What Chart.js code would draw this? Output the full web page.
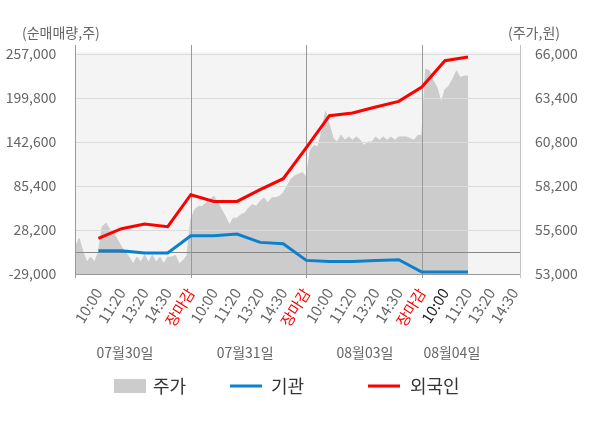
<!DOCTYPE html>
<html>
<head>
<meta charset="utf-8">
<script src="https://cdn.jsdelivr.net/npm/chart.js@4.4.1/dist/chart.umd.min.js"></script>
<style>
  body { margin: 0; background: #fff; }
  #wrap { width: 600px; height: 428px; }
</style>
</head>
<body>
<div id="wrap"><canvas id="grafico" width="600" height="428"></canvas></div>
<script>
// datos
const timeLabels = ["10:00", "11:20", "13:20", "14:30", "장마감"];
const dateLabels = ["07월30일", "07월31일", "08월03일", "08월04일"];
const leftTicks = [-29000, 28200, 85400, 142600, 199800, 257000];
const rightTicks = [53000, 55600, 58200, 60800, 63400, 66000];

// 주가 (6 muestras por tramo de eje)
const priceValues = [
    54600, 55100, 54300, 53700, 54000, 53700, 54300, 55800, 56000, 55600,
    55400, 55000, 54600, 54300, 54000, 53600, 54000, 53700, 54100, 53700,
    54100, 53700, 54000, 53600, 54000, 54000, 54100, 53600, 53800, 54100,
    56200, 56800, 57000, 57000, 57200, 57400, 57600, 57200, 56800, 56400,
    55900, 56300, 56300, 56500, 56600, 56900, 57100, 57000, 57300, 57500,
    57200, 57500, 57500, 57600, 57800, 58200, 58600, 58800, 58900, 59000,
    58700,
    60300, 60600, 60500, 61400, 62600, 61800, 61000, 60800, 61200, 60900,
    61100, 60900, 61100, 60900, 60600, 60800, 60800, 61100, 60900, 61100,
    60900, 61100, 60900, 61100, 61100, 61100, 61000, 60900, 61200, 61200,
    65100, 65000, 64400, 64000, 63100, 63900, 64100, 64500, 65000, 64600,
    64700, 64700
];
// 기관 / 외국인 (uno por marca de hora, desde 07/30 10:00)
const institution = [1300, 1300, -1700, -1700, 20800, 20800, 23000, 12100, 10400, -11300,
    -12600, -12600, -11300, -10400, -26400, -26400, -26400];
const foreign = [17300, 29900, 36000, 32500, 74100, 65400, 65400, 80600, 94900, 135200,
    176800, 180300, 188100, 195400, 214100, 248300, 253100];

const samplesPerTick = 6;
const fuente = "'Noto Sans CJK KR', 'Noto Sans', sans-serif";
const xTicks = [];
for (let i = 1; i <= 19; i++) xTicks.push(i);
const datePos = [2.15, 7.35, 12.54, 16.3];

const decor = {
    id: "decor",
    beforeDraw(chart) {
        const { ctx, chartArea: a } = chart;
        ctx.save();
        ctx.fillStyle = "#f4f4f4";
        ctx.fillRect(a.left, a.top - 2, a.right - a.left, a.bottom - a.top + 2);
        ctx.restore();
    },
    afterDatasetDraw(chart, args) {
        if (args.index !== 2) return;
        const { ctx, chartArea: a, scales } = chart;
        ctx.save();
        ctx.lineWidth = 1;
        //lineas horizontales
        leftTicks.forEach((v, i) => {
            const y = Math.round(scales.y.getPixelForValue(v)) + 0.5;
            ctx.strokeStyle = i === 0 ? "#999" : "#dcdcdc";
            ctx.beginPath();
            ctx.moveTo(a.left, y);
            ctx.lineTo(a.right, y);
            ctx.stroke();
        });
        const y0 = Math.round(scales.y.getPixelForValue(0)) + 0.5;
        ctx.strokeStyle = "#888";
        ctx.beginPath();
        ctx.moveTo(a.left, y0);
        ctx.lineTo(a.right, y0);
        ctx.stroke();
        //lineas verticales
        const xs = [a.left, scales.x.getPixelForValue(5), scales.x.getPixelForValue(10), scales.x.getPixelForValue(15)];
        xs.forEach((x) => {
            const px = Math.round(x) + 0.5;
            ctx.strokeStyle = "#999";
            ctx.beginPath();
            ctx.moveTo(px, a.top - 9);
            ctx.lineTo(px, a.bottom + 4);
            ctx.stroke();
        });
        const pr = Math.round(a.right) + 0.5;
        ctx.strokeStyle = "#c4c4c4";
        ctx.beginPath();
        ctx.moveTo(pr, a.top - 9);
        ctx.lineTo(pr, a.bottom + 4);
        ctx.stroke();
        ctx.restore();
    },
    afterDraw(chart) {
        const { ctx, scales } = chart;
        ctx.save();
        ctx.textBaseline = "middle";
        ctx.font = "14px " + fuente;
        ctx.fillStyle = "#666";
        ctx.textAlign = "left";
        ctx.fillText("(순매매량,주)", 22, 33);
        ctx.fillText("(주가,원)", 508, 33);
        //fechas
        ctx.textAlign = "center";
        dateLabels.forEach((d, i) => {
            ctx.fillText(d, scales.x.getPixelForValue(datePos[i]), 353);
        });
        //leyenda
        const ly = 386;
        ctx.font = "18px " + fuente;
        ctx.textAlign = "left";
        ctx.fillStyle = "#cccccc";
        ctx.fillRect(114, ly - 7, 32, 14);
        ctx.fillStyle = "#333";
        ctx.fillText("주가", 153, ly);
        ctx.lineWidth = 3;
        ctx.strokeStyle = "#0b80cf";
        ctx.beginPath();
        ctx.moveTo(230, ly);
        ctx.lineTo(262, ly);
        ctx.stroke();
        ctx.fillText("기관", 271, ly);
        ctx.strokeStyle = "#ff0000";
        ctx.beginPath();
        ctx.moveTo(368, ly);
        ctx.lineTo(400, ly);
        ctx.stroke();
        ctx.fillText("외국인", 410, ly);
        ctx.restore();
    },
};

new Chart(document.getElementById("grafico"), {
    type: "line",
    data: {
        datasets: [
            {
                label: "외국인",
                data: foreign.map((v, i) => ({ x: i + 1, y: v })),
                borderColor: "#ff0000",
                borderWidth: 3,
                pointRadius: 0,
                yAxisID: "y",
                order: 1,
            },
            {
                label: "기관",
                data: institution.map((v, i) => ({ x: i + 1, y: v })),
                borderColor: "#0b80cf",
                borderWidth: 3,
                pointRadius: 0,
                yAxisID: "y",
                order: 2,
            },
            {
                label: "주가",
                data: priceValues.map((v, i) => ({ x: i / samplesPerTick, y: v })),
                borderColor: "#cccccc",
                backgroundColor: "#cccccc",
                borderWidth: 1,
                pointRadius: 0,
                fill: "start",
                yAxisID: "y2",
                order: 3,
            },
        ],
    },
    options: {
        responsive: false,
        animation: false,
        layout: { padding: { top: 54 } },
        plugins: {
            legend: { display: false },
            tooltip: { enabled: false },
        },
        scales: {
            x: {
                type: "linear",
                min: 0,
                max: 19.25,
                afterBuildTicks: (s) => {
                    s.ticks = xTicks.map((v) => ({ value: v }));
                },
                afterFit: (s) => {
                    s.height = 154;
                },
                grid: { display: false },
                border: { display: false },
                ticks: {
                    autoSkip: false,
                    maxRotation: 58,
                    minRotation: 58,
                    padding: 3,
                    font: { family: fuente, size: 15 },
                    color: (c) => {
                        const v = c.tick.value;
                        if (v % 5 === 0) return "#ff0000";
                        if (v === 16) return "#222";
                        return "#666";
                    },
                    callback: (v) => timeLabels[(v - 1) % 5],
                },
            },
            y: {
                position: "left",
                min: -29000,
                max: 257000,
                afterBuildTicks: (s) => {
                    s.ticks = leftTicks.map((v) => ({ value: v }));
                },
                afterFit: (s) => {
                    s.width = 75.3;
                },
                grid: { display: false },
                border: { display: false },
                ticks: {
                    padding: 11,
                    font: { family: fuente, size: 14 },
                    color: "#666",
                    callback: (v) => v.toLocaleString("en-US"),
                },
            },
            y2: {
                position: "right",
                min: 53000,
                max: 66000,
                afterBuildTicks: (s) => {
                    s.ticks = rightTicks.map((v) => ({ value: v }));
                },
                afterFit: (s) => {
                    s.width = 80;
                },
                grid: { display: false },
                border: { display: false },
                ticks: {
                    padding: 7,
                    font: { family: fuente, size: 14 },
                    color: "#666",
                    callback: (v) => v.toLocaleString("en-US"),
                },
            },
        },
    },
    plugins: [decor],
});
</script>
</body>
</html>
